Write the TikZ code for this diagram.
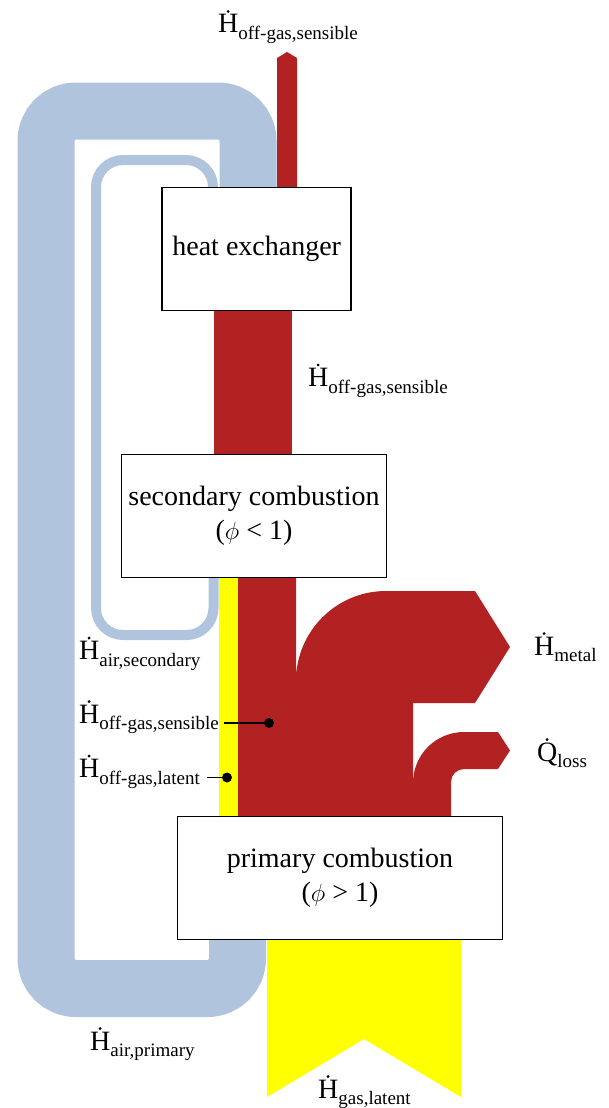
\documentclass[tikz,border=0pt]{standalone}
\usepackage{fontspec}
\setmainfont{Liberation Serif}
\definecolor{flowred}{RGB}{178,34,34}
\definecolor{flowblue}{RGB}{176,196,222}
\definecolor{flowyellow}{RGB}{255,255,0}
\newcommand\flowlbl[2]{#1\raisebox{-6.5pt}{\fontsize{19}{20}\selectfont #2}}
\begin{document}
\begin{tikzpicture}[x=1pt,y=-1pt,
  every node/.style={font=\fontsize{28}{34}\selectfont, text=black},
  procbox/.style={draw=black, line width=1.6pt, fill=white, align=center, inner sep=0pt},
  lbl/.style={inner sep=0pt, anchor=base west},
  blueband/.style={draw=flowblue, line width=57pt, rounded corners=30pt},
  thinband/.style={draw=flowblue, line width=10pt, rounded corners=27pt},
  redflow/.style={fill=flowred},
  yellowflow/.style={fill=flowyellow},
  dotmark/.style={circle, fill=black, inner sep=0pt, minimum size=10pt},
  leader/.style={draw=black, line width=1.6pt}]
\useasboundingbox (0,0) rectangle (608,1108);

% air loops
\draw[blueband] (248,200) -- (248,111) -- (46,111) -- (46,988.5) -- (237.5,988.5) -- (237.5,930);
\draw[thinband] (213,200) -- (213,160) -- (96,160) -- (96,635) -- (213.5,635) -- (213.5,570);

% red flows
\fill[redflow] (277,200) -- (277,58) -- (287,52) -- (297,58) -- (297,200) -- cycle;
\fill[redflow] (214,300) rectangle (292,465);
\fill[redflow] (238,570) -- (296,570) -- (296,681) .. controls (296,631.3) and (336.3,591) .. (386,591)
  -- (475,591) -- (510,647) -- (475,703) -- (413,703) -- (413,825) -- (238,825) -- cycle;
\fill[redflow] (413,825) -- (413,783) .. controls (413,754.8) and (435.8,732) .. (464,732)
  -- (498,732) -- (510,750.5) -- (498,769) -- (464,769) .. controls (456.8,769) and (451,774.8) .. (451,782)
  -- (451,825) -- cycle;

% yellow flows
\fill[yellowflow] (219,570) rectangle (238,825);
\fill[yellowflow] (267,930) -- (461,930) -- (461,1097) -- (364,1039) -- (267,1097) -- cycle;

% process boxes
\node[procbox, minimum width=189pt, minimum height=123pt] (he) at (256.7,249) {heat exchanger};
\node[procbox, minimum width=265pt, minimum height=123pt] (sc) at (254,516) {secondary combustion\\($\phi$ < 1)};
\node[procbox, minimum width=325pt, minimum height=123pt] (pc) at (340,878) {primary combustion\\($\phi$ > 1)};

% labels
\node[lbl] (ltop) at (218,33) {\flowlbl{H}{off-gas,sensible}};
\node[lbl] (lmid) at (308,386.5) {\flowlbl{H}{off-gas,sensible}};
\node[lbl] (lmetal) at (534,655) {\flowlbl{H}{metal}};
\node[lbl] (lloss) at (537,761) {\flowlbl{Q}{loss}};
\node[lbl] (lairsec) at (79,659.5) {\flowlbl{H}{air,secondary}};
\node[lbl] (lsens) at (79,723) {\flowlbl{H}{off-gas,sensible}};
\node[lbl] (llat) at (79,777.5) {\flowlbl{H}{off-gas,latent}};
\node[lbl] (lairpri) at (90,1050) {\flowlbl{H}{air,primary}};
\node[lbl] (lgas) at (318,1098) {\flowlbl{H}{gas,latent}};

% time-derivative dots over H and Q
\foreach \n in {ltop,lmid,lmetal,lloss,lairsec,lsens,llat,lairpri,lgas}
  \fill[black] ([xshift=10.1pt,yshift=21.5pt]\n.base west) circle (1.6pt);

% markers
\node[dotmark] (dsens) at (269,723) {};
\node[dotmark] (dlat) at (227,777.5) {};
\draw[leader] ([xshift=5pt]lsens.base east) -- (dsens.center);
\draw[leader] ([xshift=7pt]llat.base east) -- (dlat.center);
\end{tikzpicture}
\end{document}
